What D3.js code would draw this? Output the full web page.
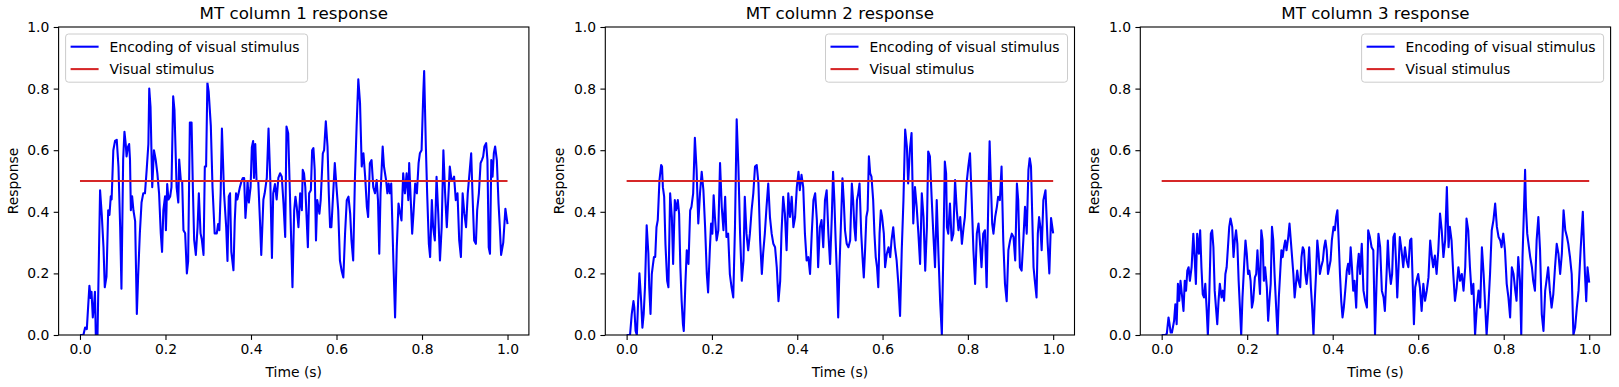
<!DOCTYPE html>
<html>
<head>
<meta charset="utf-8">
<script src="https://cdn.jsdelivr.net/npm/d3@7"></script>
<style>
body{margin:0;background:#fff}
svg{display:block;font-family:"DejaVu Sans",sans-serif}
</style>
</head>
<body>
<svg id="chart" width="1619" height="387"></svg>
<script>
var titles=["MT column 1 response","MT column 2 response","MT column 3 response"];
var legendLabels=["Encoding of visual stimulus","Visual stimulus"];
var stimulus=[[0,0.5],[1,0.5]];
var xTicks=[0,0.2,0.4,0.6,0.8,1.0];
var yTicks=[0,0.2,0.4,0.6,0.8,1.0];
var xLabel="Time (s)", yLabel="Response";

// [time (s), response]
var col1=[[0,0],[.008,0],[.012,.024],[.016,.019],[.022,.16],[.025,.12],[.027,.14],[.030,.057],[.033,.10],[.035,.14],[.037,0],[.041,0],[.047,.47],[.051,.39],[.055,.285],[.058,.155],[.062,.19],[.066,.405],[.069,.39],[.072,.45],[.074,.44],[.078,.60],[.082,.63],[.086,.634],[.090,.547],[.094,.35],[.097,.15],[.101,.57],[.104,.66],[.107,.62],[.109,.58],[.112,.61],[.115,.62],[.117,.57],[.119,.405],[.122,.45],[.125,.405],[.129,.37],[.133,.068],[.136,.19],[.140,.33],[.144,.43],[.148,.46],[.152,.46],[.156,.536],[.160,.62],[.162,.80],[.165,.74],[.169,.48],[.173,.60],[.177,.57],[.181,.525],[.185,.46],[.189,.33],[.192,.27],[.195,.405],[.199,.45],[.201,.34],[.204,.49],[.207,.44],[.211,.45],[.214,.48],[.218,.775],[.221,.73],[.226,.48],[.230,.43],[.232,.57],[.236,.50],[.239,.50],[.242,.34],[.246,.33],[.250,.20],[.253,.24],[.257,.69],[.261,.69],[.264,.48],[.267,.31],[.271,.26],[.275,.35],[.278,.46],[.282,.33],[.285,.31],[.289,.26],[.292,.547],[.295,.547],[.298,.82],[.301,.79],[.306,.68],[.310,.48],[.315,.33],[.320,.33],[.323,.36],[.326,.34],[.329,.46],[.332,.67],[.337,.46],[.342,.35],[.345,.24],[.348,.45],[.351,.46],[.354,.27],[.359,.21],[.362,.37],[.365,.46],[.368,.44],[.371,.46],[.374,.48],[.378,.50],[.381,.51],[.384,.51],[.387,.38],[.390,.44],[.392,.50],[.395,.43],[.399,.48],[.402,.61],[.405,.63],[.407,.51],[.410,.62],[.413,.50],[.417,.50],[.421,.37],[.424,.26],[.429,.44],[.432,.46],[.437,.51],[.441,.67],[.445,.51],[.449,.25],[.452,.46],[.456,.49],[.460,.44],[.464,.51],
[.468,.525],[.472,.514],[.476,.427],[.480,.318],[.483,.677],[.487,.655],[.491,.46],[.497,.155],[.501,.405],[.504,.449],[.507,.416],[.511,.35],[.515,.46],[.519,.405],[.521,.536],[.524,.525],[.527,.48],[.530,.383],[.533,.285],[.536,.46],[.540,.47],[.543,.60],[.546,.607],[.549,.536],[.552,.307],[.555,.438],[.560,.394],[.563,.438],[.568,.59],[.571,.60],[.575,.694],[.579,.612],[.582,.46],[.585,.35],[.588,.35],[.593,.48],[.596,.558],[.600,.48],[.604,.405],[.608,.242],[.612,.209],[.616,.187],[.620,.329],[.624,.438],[.628,.449],[.632,.394],[.635,.307],[.639,.242],[.643,.503],[.647,.677],[.651,.83],[.655,.754],[.659,.547],[.663,.59],[.667,.514],[.671,.416],[.674,.383],[.678,.558],[.682,.568],[.686,.48],[.690,.46],[.694,.503],[.697,.438],[.700,.264],[.703,.46],[.708,.612],[.711,.547],[.716,.503],[.719,.46],[.722,.492],[.725,.46],[.728,.492],[.733,.242],[.737,.057],[.741,.285],[.745,.427],[.749,.394],[.752,.372],[.756,.525],[.760,.46],[.764,.525],[.768,.438],[.770,.558],[.773,.46],[.777,.329],[.780,.394],[.784,.492],[.788,.46],[.792,.558],[.795,.59],[.799,.60],[.803,.786],[.805,.857],[.809,.612],[.812,.46],[.816,.296],[.819,.253],[.823,.438],[.826,.35],[.830,.307],[.834,.514],[.838,.394],[.842,.242],[.846,.35],[.850,.60],[.854,.46],[.858,.35],[.862,.46],[.865,.547],[.869,.503],[.872,.503],[.875,.514],[.879,.438],[.883,.46],[.887,.307],[.891,.253],[.895,.46],[.899,.394],[.903,.35],[.907,.46],[.911,.525],[.915,.59],[.918,.46],[.922,.307],[.926,.296],[.929,.405],[.933,.46],[.937,.558],[.940,.568],[.943,.579],[.946,.612],[.950,.623],[.953,.568],[.956,.285],[.959,.264],[.962,.568],[.965,.514],[.968,.59],[.971,.612],[.975,.568],[.979,.427],[.982,.35],[.985,.26],[.990,.30],[.995,.41],[1.0,.36]];

var col2=[[0,0],[.008,0],[.012,.068],[.016,.11],[.018,.09],[.021,.013],[.024,0],[.027,.11],[.030,.20],[.034,.11],[.037,.024],[.040,.068],[.043,.155],[.047,.356],[.051,.264],[.053,.155],[.056,.068],[.059,.198],[.061,.22],[.064,.253],[.067,.253],[.070,.35],[.073,.373],[.075,.438],[.077,.503],[.081,.552],[.083,.547],[.085,.48],[.088,.449],[.091,.296],[.095,.176],[.098,.155],[.102,.46],[.106,.383],[.109,.231],[.113,.438],[.116,.405],[.120,.438],[.123,.394],[.126,.22],[.129,.11],[.132,.035],[.134,.013],[.138,.176],[.141,.275],[.145,.231],[.149,.405],[.152,.416],[.156,.46],[.160,.64],[.164,.536],[.168,.362],[.172,.46],[.176,.53],[.180,.47],[.184,.35],[.188,.198],[.191,.138],[.195,.275],[.198,.362],[.201,.329],[.204,.454],[.207,.383],[.211,.307],[.215,.34],[.219,.558],[.223,.416],[.227,.34],[.231,.449],[.234,.318],[.238,.329],[.242,.198],[.246,.155],[.250,.122],[.254,.35],[.258,.70],[.262,.547],[.266,.329],[.270,.176],[.274,.242],[.277,.449],[.281,.329],[.285,.275],[.289,.329],[.293,.405],[.297,.46],[.301,.547],[.305,.552],[.309,.492],[.313,.307],[.317,.198],[.320,.264],[.324,.329],[.328,.416],[.332,.492],[.336,.383],[.340,.329],[.344,.296],[.348,.285],[.352,.22],[.356,.11],[.360,.176],[.363,.329],[.367,.449],[.371,.394],[.375,.275],[.379,.46],[.383,.383],[.387,.449],[.391,.35],[.395,.383],[.399,.48],[.403,.53],[.406,.47],[.410,.52],[.414,.48],[.418,.329],[.422,.242],[.426,.253],[.430,.198],[.434,.329],[.438,.438],[.442,.46],[.446,.373],[.449,.22],[.453,.35],[.457,.373],[.461,.285],
[.465,.438],[.469,.47],[.473,.329],[.477,.231],[.481,.383],[.484,.53],[.487,.438],[.490,.307],[.493,.198],[.496,.057],[.499,.22],[.503,.383],[.506,.509],[.509,.438],[.512,.34],[.516,.296],[.520,.285],[.524,.307],[.528,.492],[.531,.438],[.534,.35],[.537,.307],[.540,.438],[.543,.46],[.546,.492],[.550,.329],[.553,.253],[.556,.187],[.559,.275],[.562,.383],[.565,.405],[.568,.58],[.571,.525],[.574,.514],[.578,.438],[.581,.329],[.584,.253],[.587,.22],[.590,.155],[.593,.329],[.596,.405],[.599,.383],[.603,.329],[.606,.22],[.610,.264],[.614,.285],[.618,.253],[.621,.307],[.625,.35],[.629,.285],[.633,.242],[.637,.166],[.641,.062],[.645,.275],[.649,.438],[.653,.667],[.657,.612],[.660,.492],[.664,.60],[.668,.656],[.672,.362],[.676,.48],[.680,.416],[.684,.329],[.688,.231],[.692,.46],[.696,.383],[.700,.209],[.704,.35],[.707,.596],[.711,.58],[.715,.449],[.719,.329],[.723,.22],[.727,.438],[.731,.264],[.735,.11],[.739,0],[.743,.307],[.746,.563],[.749,.525],[.751,.35],[.754,.329],[.758,.427],[.762,.307],[.766,.329],[.770,.503],[.774,.405],[.778,.34],[.782,.383],[.786,.296],[.790,.35],[.793,.383],[.797,.492],[.801,.547],[.805,.59],[.809,.438],[.813,.275],[.817,.166],[.821,.329],[.825,.362],[.828,.307],[.832,.22],[.836,.329],[.840,.34],[.844,.155],[.848,.438],[.851,.629],[.854,.492],[.857,.362],[.860,.329],[.864,.383],[.868,.416],[.871,.449],[.875,.438],[.879,.547],[.883,.307],[.887,.166],[.891,.11],[.895,.275],[.899,.307],[.903,.329],[.907,.318],[.911,.242],[.915,.492],[.918,.438],[.922,.22],[.926,.209],[.930,.307],[.934,.416],[.938,.329],[.942,.536],[.945,.574],[.948,.547],[.951,.383],[.954,.22],[.957,.176],[.961,.122],[.964,.329],[.967,.383],[.970,.35],[.973,.275],[.977,.438],[.982,.47],[.987,.30],[.991,.20],[.995,.38],[1.0,.33]];

var col3=[[0,0],[.008,0],[.012,.004],[.016,.057],[.018,.04],[.021,.008],[.024,.008],[.029,.046],[.032,.10],[.035,.035],[.038,.166],[.041,.111],[.044,.176],[.048,.122],[.051,.078],[.054,.176],[.057,.144],[.060,.209],[.063,.22],[.066,.176],[.070,.22],[.074,.329],[.077,.253],[.080,.166],[.083,.329],[.087,.264],[.090,.34],[.093,.22],[.096,.133],[.099,.122],[.102,.166],[.105,.089],[.108,0],[.111,.111],[.115,.329],[.118,.34],[.121,.285],[.124,.144],[.127,.089],[.130,.035],[.133,.111],[.136,.166],[.140,.122],[.143,.144],[.146,.111],[.149,.198],[.152,.22],[.155,.285],[.158,.351],[.161,.378],[.165,.351],[.168,.253],[.171,.307],[.174,.34],[.177,.296],[.180,.176],[.183,.089],[.186,0],[.189,.122],[.193,.231],[.196,.307],[.199,.264],[.202,.198],[.205,.209],[.208,.176],[.211,.089],[.214,.111],[.218,.187],[.221,.198],[.224,.275],[.227,.198],[.230,.133],[.233,.34],[.236,.307],[.239,.176],[.242,.22],[.246,.155],[.249,.046],[.252,.111],[.255,.166],[.258,.351],[.261,.307],[.264,.198],[.267,.111],[.271,0],[.274,.122],[.277,.198],[.280,.275],[.283,.253],[.286,.285],[.289,.307],[.292,.275],[.296,.318],[.299,.362],[.302,.307],[.305,.253],[.308,.198],[.311,.122],[.314,.166],[.317,.209],[.320,.176],[.324,.155],[.327,.253],[.330,.285],[.333,.275],[.336,.198],[.339,.166],[.342,.209],[.345,.285],[.349,.155],[.352,.089],[.355,0],[.358,.111],[.361,.198],[.364,.307],[.367,.264],[.370,.198],[.373,.22],[.377,.242],[.380,.285],[.383,.307],[.386,.275],[.389,.198],[.392,.22],[.395,.242],[.398,.307],[.402,.351],[.405,.34],[.408,.383],[.411,.405],[.414,.307],[.417,.198],[.420,.111],[.423,.057],[.426,.089],[.430,.155],[.433,.209],[.436,.231],[.439,.198],[.442,.285],[.445,.22],[.448,.144],[.451,.176],[.455,.089],[.458,.22],[.461,.264],
[.464,.198],[.468,.296],[.472,.144],[.476,.111],[.480,.089],[.483,.34],[.487,.318],[.491,.285],[.495,.275],[.499,0],[.503,.187],[.507,.329],[.511,.285],[.515,.144],[.519,.122],[.522,.078],[.526,.198],[.529,.307],[.532,.22],[.536,.166],[.539,.198],[.542,.318],[.545,.329],[.548,.242],[.551,.122],[.554,.22],[.557,.318],[.561,.275],[.565,.22],[.569,.285],[.573,.242],[.577,.22],[.581,.307],[.584,.313],[.587,.176],[.590,.035],[.593,.155],[.596,.176],[.600,.198],[.604,.155],[.608,.078],[.612,.166],[.616,.111],[.620,.144],[.624,.187],[.628,.307],[.632,.253],[.635,.22],[.639,.258],[.643,.198],[.647,.275],[.651,.394],[.655,.34],[.659,.253],[.663,.307],[.667,.48],[.671,.285],[.674,.351],[.678,.307],[.682,.198],[.686,.111],[.690,.155],[.694,.22],[.698,.176],[.702,.198],[.706,.144],[.710,.22],[.713,.378],[.717,.34],[.721,.22],[.725,.133],[.729,.166],[.733,0],[.737,.089],[.741,.144],[.745,.089],[.749,.285],[.753,.198],[.756,.111],[.760,0],[.764,.089],[.768,.198],[.772,.34],[.776,.373],[.780,.427],[.784,.351],[.788,.318],[.792,.307],[.795,.285],[.799,.329],[.803,.275],[.807,.166],[.811,.122],[.815,.057],[.819,.22],[.823,.198],[.827,.144],[.830,.111],[.834,.253],[.838,.176],[.841,0],[.844,.253],[.848,.438],[.850,.536],[.852,.416],[.855,.329],[.859,.285],[.862,.253],[.866,.22],[.869,.176],[.873,.144],[.877,.307],[.881,.383],[.885,.275],[.889,.068],[.893,.013],[.897,.144],[.900,.176],[.904,.22],[.908,.144],[.912,.089],[.916,.133],[.920,.22],[.924,.296],[.928,.264],[.932,.198],[.936,.264],[.940,.405],[.944,.34],[.948,.318],[.951,.296],[.955,.253],[.959,.198],[.963,0],[.967,.024],[.971,.089],[.975,.144],[.980,.28],[.985,.40],[.990,.20],[.993,.11],[.996,.22],[1.0,.17]];

var series=[col1,col2,col3];

var svg=d3.select("#chart");
var top_=27, bottom_=335;
var fs=13.9;
var panels=[
  {left:58.6,right:528.9,legend:"left"},
  {left:605.3,right:1074.5,legend:"right"},
  {left:1140.3,right:1610.6,legend:"right"}
];

panels.forEach(function(p,i){
  var x=d3.scaleLinear().domain([-0.05,1.05]).range([p.left,p.right]);
  var y=d3.scaleLinear().domain([0,1]).range([bottom_,top_]);
  var g=svg.append("g");

  g.append("clipPath").attr("id","clip"+i)
   .append("rect").attr("x",p.left).attr("y",top_)
   .attr("width",p.right-p.left).attr("height",bottom_-top_);

  var line=d3.line().x(function(d){return x(d[0]);}).y(function(d){return y(d[1]);});

  g.append("path").datum(series[i])
   .attr("clip-path","url(#clip"+i+")")
   .attr("d",line)
   .style("fill","none").style("stroke","#0000ff")
   .style("stroke-width",2.08).style("stroke-linejoin","round");
  g.append("path").datum(stimulus)
   .attr("clip-path","url(#clip"+i+")")
   .attr("d",line)
   .style("fill","none").style("stroke","#d62728")
   .style("stroke-width",2.08);

  // axes
  var xa=g.append("g").attr("transform","translate(0,"+bottom_+")")
   .call(d3.axisBottom(x).tickValues(xTicks).tickFormat(d3.format(".1f")).tickSize(4.9).tickPadding(4.4));
  var ya=g.append("g").attr("transform","translate("+p.left+",0)")
   .call(d3.axisLeft(y).tickValues(yTicks).tickFormat(d3.format(".1f")).tickSize(4.9).tickPadding(4.4));
  [xa,ya].forEach(function(a){
    a.select(".domain").remove();
    a.selectAll("line").style("stroke","#000").style("stroke-width",1.1);
    a.selectAll("text").style("font-size",fs+"px").style("fill","#000")
     .style("font-family","DejaVu Sans");
  });

  g.append("rect").attr("x",p.left).attr("y",top_)
   .attr("width",p.right-p.left).attr("height",bottom_-top_)
   .style("fill","none").style("stroke","#000").style("stroke-width",1.1);

  g.append("text").attr("x",(p.left+p.right)/2).attr("y",19)
   .attr("text-anchor","middle").style("font-size","16.7px").text(titles[i]);
  g.append("text").attr("x",(p.left+p.right)/2).attr("y",377)
   .attr("text-anchor","middle").style("font-size",fs+"px").text(xLabel);
  g.append("text")
   .attr("transform","translate("+(p.left-41)+","+((top_+bottom_)/2)+") rotate(-90)")
   .attr("text-anchor","middle").style("font-size",fs+"px").text(yLabel);

  // legend
  var lw=242, lh=48.2;
  var lx=p.legend=="left"? p.left+7 : p.right-7-lw;
  var ly=top_+7;
  var lg=g.append("g");
  lg.append("rect").attr("x",lx).attr("y",ly).attr("width",lw).attr("height",lh)
   .attr("rx",3).style("fill","#fff").style("fill-opacity",0.8)
   .style("stroke","#cccccc").style("stroke-width",1);
  var colors=["#0000ff","#d62728"];
  legendLabels.forEach(function(lab,k){
    var cy=ly+12.7+k*22.4;
    lg.append("line").attr("x1",lx+5).attr("x2",lx+33).attr("y1",cy).attr("y2",cy)
     .style("stroke",colors[k]).style("stroke-width",2.08);
    lg.append("text").attr("x",lx+44).attr("y",cy+5)
     .style("font-size",fs+"px").text(lab);
  });
});
</script>
</body>
</html>
